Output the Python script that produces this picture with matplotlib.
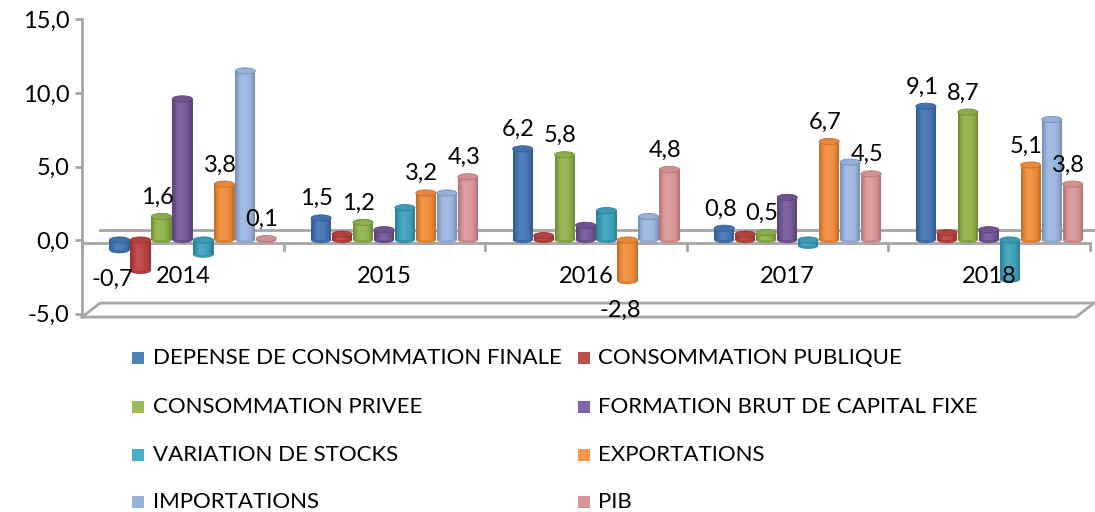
import numpy as np
import matplotlib
matplotlib.use("Agg")
import matplotlib.pyplot as plt
from matplotlib.patches import Ellipse, Rectangle

plt.rcParams['font.family'] = ['Lato', 'DejaVu Sans']

years = ["2014", "2015", "2016", "2017", "2018"]
series = ["DEPENSE DE CONSOMMATION FINALE", "CONSOMMATION PUBLIQUE",
          "CONSOMMATION PRIVEE", "FORMATION BRUT DE CAPITAL FIXE",
          "VARIATION DE STOCKS", "EXPORTATIONS", "IMPORTATIONS", "PIB"]

depense = [-0.7, 1.5, 6.2, 0.8, 9.1]
conso_publique = [-2.1, 0.4, 0.3, 0.4, 0.5]
conso_privee = [1.6, 1.2, 5.8, 0.5, 8.7]
fbcf = [9.6, 0.7, 1.0, 2.9, 0.7]
stocks = [-1.0, 2.2, 2.0, -0.4, -2.7]
exportations = [3.8, 3.2, -2.8, 6.7, 5.1]
importations = [11.5, 3.2, 1.6, 5.3, 8.2]
pib = [0.1, 4.3, 4.8, 4.5, 3.8]

values = [depense, conso_publique, conso_privee, fbcf, stocks,
          exportations, importations, pib]
labelled = [0, 2, 5, 7]   # series that carry data labels

colors = ["#4F81BD", "#C0504D", "#9BBB59", "#8064A2",
          "#4BACC6", "#F79646", "#95B3D7", "#D99694"]
bar_colors = ["#4374B3", "#BA4340", "#8FB24A", "#735797",
              "#3CA0BB", "#F08C3A", "#9AB5DF", "#DA9596"]

W, H = 1095, 512
fig = plt.figure(figsize=(W / 100, H / 100), dpi=100)
# axes: x from px 82 to 1090, y: 15 -> px 19.5, -5 -> px 313.5
ax = fig.add_axes([82 / W, 1 - 313.5 / H, (1090 - 82) / W, (313.5 - 19.5) / H])
ax.set_xlim(-0.5, 4.5)
ax.set_ylim(-5, 15)

grey = "#A6A6A6"


def shade(c, f):
    c = np.array(matplotlib.colors.to_rgb(c))
    if f < 1:
        return tuple(c * f)
    return tuple(np.clip(c + (1 - c) * (f - 1), 0, 1))


# floor / walls
ax.plot([-0.5, 4.5], [-0.2, -0.2], color=grey, lw=2, clip_on=False, zorder=1)
ax.plot([-0.41, 4.6], [0.68, 0.68], color=grey, lw=2, clip_on=False, zorder=1)
for i in range(6):
    ax.plot([i - 0.5, i - 0.5], [-0.2, -0.65], color=grey, lw=2,
            clip_on=False, zorder=1)
ax.plot([-0.5, 4.43, 4.52], [-5.24, -5.24, -4.29], color=grey, lw=2,
        clip_on=False, zorder=1)
ax.plot([-0.5, -0.41, 4.52], [-5.24, -4.29, -4.29], color=grey, lw=2,
        clip_on=False, zorder=1)

for s in ["top", "right", "bottom"]:
    ax.spines[s].set_visible(False)
ax.spines["left"].set_color(grey)
ax.spines["left"].set_linewidth(2)
ax.spines["left"].set_bounds(-5.24, 15)
ax.set_yticks([-5, 0, 5, 10, 15])
ax.set_yticklabels([f"{t:.1f}".replace(".", ",") for t in [-5, 0, 5, 10, 15]])
ax.tick_params(axis="y", colors=grey, labelcolor="black", labelsize=17,
               length=5, width=2, pad=4)
ax.set_xticks([])

# category labels
for i, y in enumerate(years):
    ax.text(i, -2.5, y, ha="center", va="center", fontsize=17, zorder=6)

bw = 0.1
step = 0.104
nstrip = 10
cap = 0.42
prof = (np.arange(nstrip) + 0.5) / nstrip
fac = 0.72 + 0.33 * np.sin(np.pi * prof) ** 0.7 \
    + 0.05 * np.exp(-((prof - 0.35) / 0.15) ** 2)

for k, vals in enumerate(values):
    c = bar_colors[k]
    for i, v in enumerate(vals):
        xc = i + 0.05 + (k - 3.5) * step
        lo, hi = min(v, 0), max(v, 0)
        ax.add_patch(Ellipse((xc, lo), bw, cap, facecolor=shade(c, 0.92),
                             edgecolor="none", zorder=3))
        sw = bw / nstrip
        for j in range(nstrip):
            ax.add_patch(Rectangle((xc - bw / 2 + j * sw, lo), sw * 1.05, hi - lo,
                                   facecolor=shade(c, fac[j]), edgecolor="none",
                                   zorder=3))
        ax.add_patch(Ellipse((xc, hi), bw, cap, facecolor=shade(c, 0.97),
                             edgecolor=shade(c, 0.8), lw=0.6, zorder=4))
        if k in labelled:
            txt = f"{v:.1f}".replace(".", ",")
            if v >= 0:
                ax.annotate(txt, (xc, hi + cap / 2), xytext=(-3, 4),
                            textcoords="offset points", ha="center",
                            va="bottom", fontsize=17, zorder=5)
            else:
                ax.annotate(txt, (xc, lo - cap / 2), xytext=(-5, -11),
                            textcoords="offset points", ha="center",
                            va="top", fontsize=17, zorder=5)

# legend, laid out in two columns like the original
rows_px = [358, 407, 455, 502]
cols_px = [(132, 153), (578, 598)]
for k, name in enumerate(series):
    r, col = k // 2, k % 2
    sx, tx = cols_px[col]
    yp = rows_px[r]
    fig.add_artist(Rectangle((sx / W, 1 - (yp + 6) / H), 12 / W, 12 / H,
                             facecolor=colors[k], edgecolor="none",
                             transform=fig.transFigure))
    fig.text(tx / W, 1 - yp / H, name, ha="left", va="center", fontsize=16)

fig.savefig("out.png", dpi=100)
